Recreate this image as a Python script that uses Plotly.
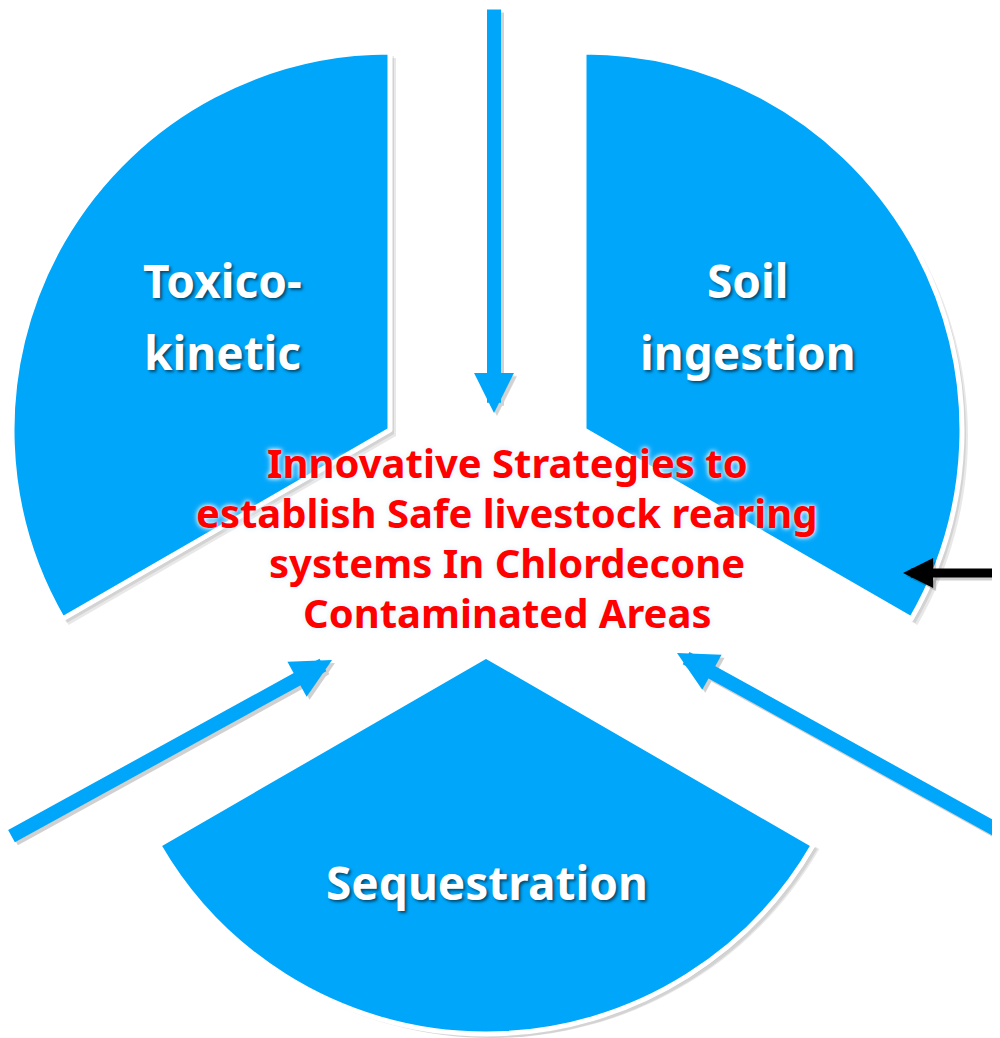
import plotly.graph_objects as go

# --- data -----------------------------------------------------------------
sector_names = ["Soil ingestion", "Sequestration", "Toxico-kinetic"]
sector_lines = [["Soil", "ingestion"], ["Sequestration"], ["Toxico-", "kinetic"]]
slice_values = [1, 1, 1]
centre_lines = [
    "Innovative Strategies to",
    "establish Safe livestock rearing",
    "systems In Chlordecone",
    "Contaminated Areas",
]

# --- geometry (page pixels, y down) -----------------------------------------
# the page body has an 8px margin, so the figure covers pixels 8..1000 / 8..1038
PAD = 8
W, H = 1000 - PAD, 1038 - PAD
R = 378
apex = [(584, 430), (486, 656), (390, 430)]          # per slice, same order as names
label_pos = [(748, 316), (487, 882), (222, 316)]
line_gap = 72
BLUE = "#00A6FA"
FONT = "Noto Sans"

fig = go.Figure()


def domain_for(cx, cy, dx=0, dy=0):
    dx = min(dx, 1000 - (cx + R))
    dy = min(dy, 1038 - (cy + R))
    cx, cy = cx + dx - PAD, cy + dy - PAD
    return dict(x=[max(0, (cx - R) / W), min(1, (cx + R) / W)],
                y=[max(0, 1 - (cy + R) / H), min(1, 1 - (cy - R) / H)])


# soft shadow under each slice
for k, (cx, cy) in enumerate(apex):
    for off in (2, 4, 6):
        cols = ["rgba(0,0,0,0.09)" if i == k else "rgba(0,0,0,0)" for i in range(3)]
        fig.add_trace(go.Pie(
            values=slice_values, labels=sector_names, sort=False,
            direction="clockwise", rotation=0, textinfo="none", hoverinfo="skip",
            marker=dict(colors=cols, line=dict(width=0)),
            domain=domain_for(cx, cy, off, off), showlegend=False,
        ))

# exploded slices: one pie per slice, others transparent
for k, (cx, cy) in enumerate(apex):
    cols = [BLUE if i == k else "rgba(0,0,0,0)" for i in range(3)]
    lines = ["white" if i == k else "rgba(0,0,0,0)" for i in range(3)]
    fig.add_trace(go.Pie(
        values=slice_values, labels=sector_names, sort=False,
        direction="clockwise", rotation=0, textinfo="none", hoverinfo="skip",
        marker=dict(colors=cols, line=dict(color=lines, width=5)),
        domain=domain_for(cx, cy), showlegend=False,
    ))

annotations = []

# slice labels
for lines, (x, y) in zip(sector_lines, label_pos):
    n = len(lines)
    for j, txt in enumerate(lines):
        annotations.append(dict(
            x=x, y=y + (j - (n - 1) / 2) * line_gap, xref="x", yref="y",
            text=f"<b>{txt}</b>", showarrow=False,
            font=dict(family=FONT, size=46, color="white",
                      shadow="2px 2px 3px rgba(0,0,0,0.55)"),
        ))

# centre title
for j, txt in enumerate(centre_lines):
    annotations.append(dict(
        x=507, y=462 + j * 50, xref="x", yref="y",
        text=f"<b>{txt}</b>", showarrow=False,
        font=dict(family=FONT, size=40, color="#FF0000",
                  shadow="0px 0px 4px white, 0px 0px 6px #d8ecff"),
    ))

# arrows (tip, tail, colour, width, size)
arrows = [
    ((494, 413), (494, 8), BLUE, 14, 0.57),
    ((332, 660), (10, 837), BLUE, 14, 0.57),
    ((677, 653), (997, 830), BLUE, 14, 0.57),
    ((903, 573), (999, 573), "black", 9, 0.67),
]
for (tx, ty), (sx, sy), col, w, s in arrows:
    annotations.append(dict(
        x=tx + 3, y=ty + 3, ax=sx + 3, ay=sy + 3, xref="x", yref="y",
        axref="x", ayref="y", text="", showarrow=True, arrowhead=2,
        arrowsize=s, arrowwidth=w, arrowcolor="rgba(0,0,0,0.18)", standoff=0,
    ))
    annotations.append(dict(
        x=tx, y=ty, ax=sx, ay=sy, xref="x", yref="y", axref="x", ayref="y",
        text="", showarrow=True, arrowhead=2, arrowsize=s, arrowwidth=w,
        arrowcolor=col, standoff=0,
    ))

fig.update_layout(
    width=W, height=H, margin=dict(l=0, r=0, t=0, b=0),
    paper_bgcolor="white", plot_bgcolor="white", showlegend=False,
    xaxis=dict(range=[PAD, 1000], visible=False, fixedrange=True),
    yaxis=dict(range=[1038, PAD], visible=False, fixedrange=True),
    annotations=annotations,
)

fig.write_html("out.html")
